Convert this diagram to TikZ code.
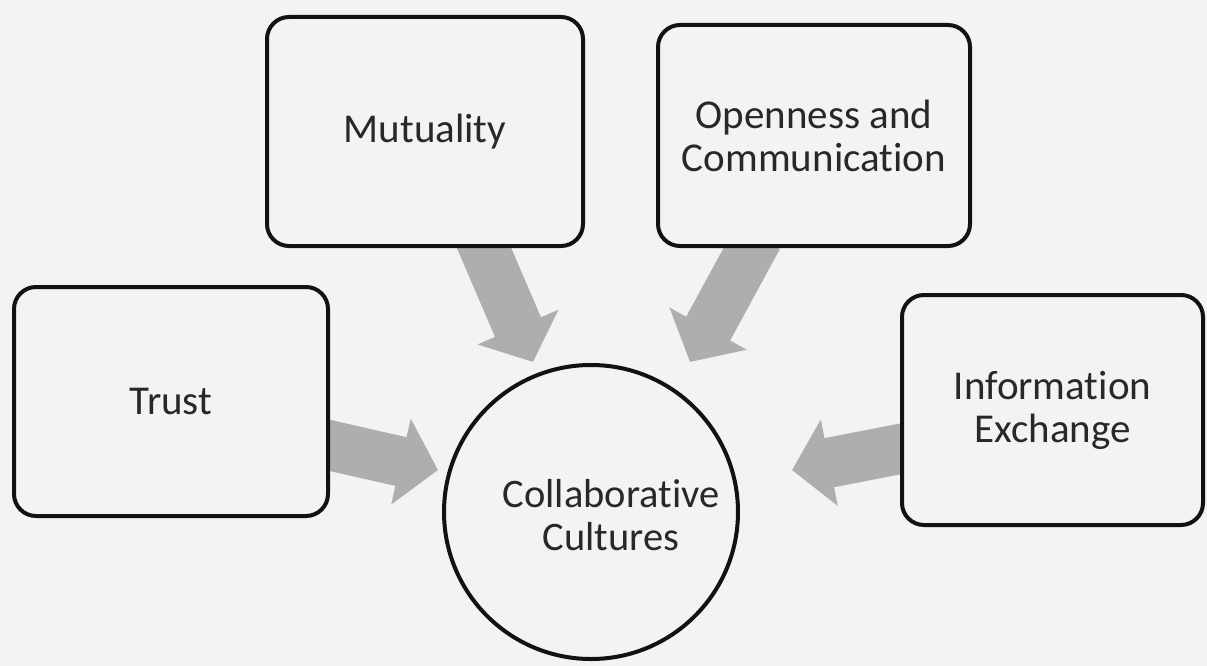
\documentclass[tikz,border=0pt]{standalone}
\usepackage{fontspec}
\setmainfont{Carlito}[Ligatures=NoCommon]
\usetikzlibrary{arrows.meta,calc}
\pgfdeclarelayer{back}
\pgfsetlayers{back,main}
\definecolor{paper}{RGB}{242,243,244}
\definecolor{arrowgray}{RGB}{174,174,174}
\definecolor{ink}{RGB}{18,18,18}
\definecolor{label}{RGB}{40,40,40}
\begin{document}
\begin{tikzpicture}[x=1pt,y=-1pt,
  factor/.style={draw=ink, line width=4pt, rounded corners=22pt, fill=paper,
    inner sep=0pt, align=center, text=label,
    font=\fontsize{41}{43}\selectfont},
  hub/.style={circle, draw=ink, line width=4pt, fill=paper,
    minimum size=294pt, inner sep=0pt},
  hubtext/.style={align=center, text=label, font=\fontsize{40.5}{43}\selectfont},
  flow/.style={draw=arrowgray, line width=50pt,
    -{Triangle[length=38pt,width=86pt]}}]
\useasboundingbox (0,0) rectangle (1207,666);

% the four factors
\node[factor, minimum width=316pt, minimum height=229pt] (mut)  at (425,131.5) {Mutuality};
\node[factor, minimum width=312pt, minimum height=221pt] (open) at (814,135.5) {Openness and\\Communication};
\node[factor, minimum width=314pt, minimum height=229pt] (trust) at (171,401.5) {Trust};
\node[factor, minimum width=301pt, minimum height=230pt] (info) at (1052.5,410) {Information\\Exchange};

% the central circle
\node[hub] (core) at (591,512) {};
\node[hubtext] (coretext) at (611,515) {Collaborative\\Cultures};

% arrow tips, just short of the circle
\coordinate (tipM) at ($(core)+(-58,-150)$);
\coordinate (tipO) at ($(core)+(99,-150)$);
\coordinate (tipT) at ($(core)+(-153,-42)$);
\coordinate (tipI) at ($(core)+(201,-42)$);

\begin{pgfonlayer}{back}
  \fill[paper] (0,0) rectangle (1207,666);
  \draw[flow] ($(mut.south)+(53,-14)$) -- (tipM);
  \draw[flow] ($(open.south)+(-56,-11)$) -- (tipO);
  \draw[flow] ($(trust.east)+(-15,40.5)$) -- (tipT);
  \draw[flow] ($(info.west)+(15,36)$) -- (tipI);
\end{pgfonlayer}
\end{tikzpicture}
\end{document}
